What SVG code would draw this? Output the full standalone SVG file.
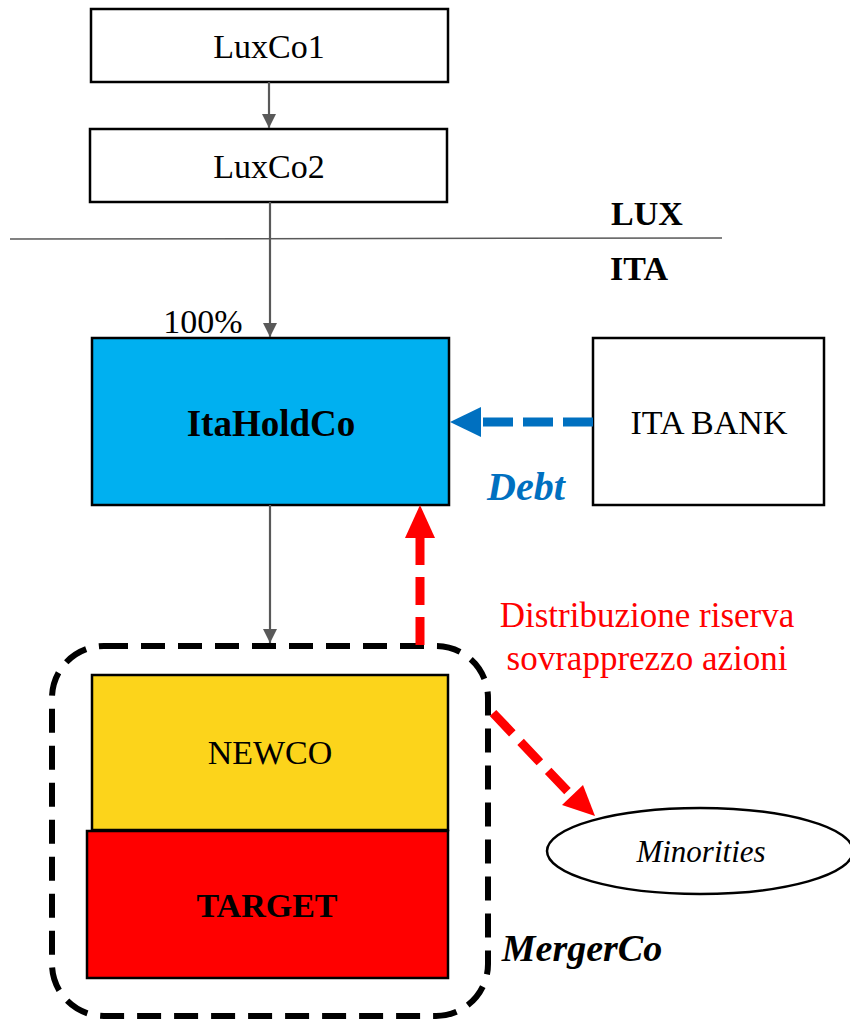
<svg xmlns="http://www.w3.org/2000/svg" width="850" height="1022" viewBox="0 0 850 1022">
<style>
.box{stroke:#000;stroke-width:2.5}
.t{font-family:"Liberation Serif",serif;font-size:34px;text-anchor:middle;dominant-baseline:central;fill:#000}
.b{font-weight:bold}
.i{font-style:italic}
.own{stroke:#595959;stroke-width:2.2;fill:none}
</style>
<defs>
<marker id="ag" viewBox="0 0 10 10" refX="10" refY="5" markerWidth="14" markerHeight="14" markerUnits="userSpaceOnUse" orient="auto"><path d="M0,0 L10,5 L0,10 z" fill="#595959"/></marker>
</defs>
<rect width="850" height="1022" fill="#fff"/>
<g id="border">
<line x1="10" y1="239" x2="722" y2="238" stroke="#595959" stroke-width="1.5"/>
<text class="t b" x="647" y="213">LUX</text>
<text class="t b" x="639" y="268">ITA</text>
</g>
<g id="mergerco-frame">
<rect x="52" y="646" width="436" height="370" rx="52" fill="none" stroke="#000" stroke-width="6" stroke-dasharray="24 13"/>
<text class="t b i" x="582" y="948" style="font-size:38px">MergerCo</text>
</g>
<g id="luxco1"><rect class="box" x="91" y="9" width="357" height="73" fill="#fff"/><text class="t" x="269" y="46">LuxCo1</text></g>
<g id="luxco2"><rect class="box" x="90" y="129" width="357" height="73" fill="#fff"/><text class="t" x="269" y="166">LuxCo2</text></g>
<g id="itaholdco"><rect class="box" x="92" y="338" width="357" height="167" fill="#00B0F0"/><text class="t b" x="271" y="423" style="font-size:37px">ItaHoldCo</text></g>
<g id="itabank"><rect class="box" x="593" y="338" width="231" height="167" fill="#fff"/><text class="t" x="709" y="422">ITA BANK</text></g>
<g id="newco"><rect class="box" x="92" y="675" width="356" height="155" fill="#FCD41B"/><text class="t" x="270" y="752">NEWCO</text></g>
<g id="target"><rect class="box" x="87" y="831" width="361" height="147" fill="#FF0000"/><text class="t b" x="267" y="905">TARGET</text></g>
<g id="minorities"><ellipse cx="700" cy="851" rx="153" ry="43" fill="#fff" stroke="#000" stroke-width="2.5"/><text class="t i" x="701" y="851" style="font-size:31px">Minorities</text></g>
<g id="connectors">
<line class="own" x1="269" y1="82" x2="269" y2="128" marker-end="url(#ag)"/>
<line class="own" x1="270" y1="202" x2="270" y2="337" marker-end="url(#ag)"/>
<text class="t" x="203" y="321">100%</text>
<line class="own" x1="270" y1="505" x2="270" y2="643" marker-end="url(#ag)"/>
<line x1="593" y1="422" x2="482" y2="422" stroke="#0070C0" stroke-width="9" stroke-dasharray="30 10"/>
<path d="M450,422 L481,407 L481,437 z" fill="#0070C0"/>
<text class="t b i" x="526" y="486" style="font-size:40px;fill:#0070C0">Debt</text>
<line x1="420" y1="645" x2="420" y2="538" stroke="#FF0000" stroke-width="9" stroke-dasharray="28 12"/>
<path d="M420,505 L405,538 L435,538 z" fill="#FF0000"/>
<line x1="493" y1="713" x2="573" y2="797" stroke="#FF0000" stroke-width="9" stroke-dasharray="28 12"/>
<path d="M595,816 L562,805 L583,785 z" fill="#FF0000"/>
<text class="t" x="647" y="615" style="font-size:35px;fill:#FF0000">Distribuzione riserva</text>
<text class="t" x="647" y="658" style="font-size:35px;fill:#FF0000">sovrapprezzo azioni</text>
</g>
</svg>
